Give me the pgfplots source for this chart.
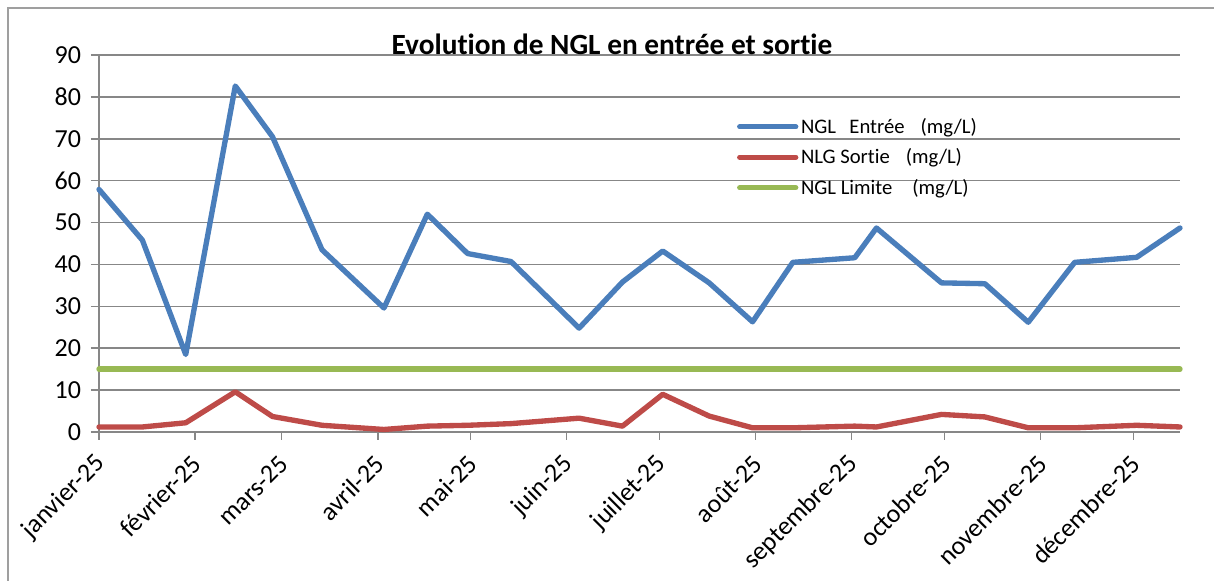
\documentclass[border=0pt]{standalone}
\usepackage{fontspec}
\setmainfont{Carlito}[Ligatures={NoCommon,NoRequired,NoContextual}]
\usepackage{pgfplots}
\pgfplotsset{compat=1.18}
\definecolor{cblue}{HTML}{4A7EBB}
\definecolor{cred}{HTML}{BE4B48}
\definecolor{cgreen}{HTML}{98B954}
\definecolor{cgrid}{HTML}{878787}
\begin{document}
\begin{tikzpicture}
\begin{axis}[
  at={(74.25pt,111.75pt)}, anchor=south west,
  scale only axis, width=810.75pt, height=282.75pt,
  xmin=0, xmax=349, ymin=0, ymax=90,
  clip=false,
  axis x line*=bottom, axis y line*=left,
  axis line style={cgrid, line width=1.1pt},
  ymajorgrids, grid style={cgrid, line width=1.1pt},
  ytick={0,10,...,90},
  xtick={0,31,59,90,120,151,181,212,243,273,304,334},
  xticklabels={janvier-25,février-25,mars-25,avril-25,mai-25,juin-25,juillet-25,août-25,septembre-25,octobre-25,novembre-25,décembre-25},
  tick align=outside, major tick length=6pt,
  tick style={cgrid, line width=1.1pt},
  /pgf/number format/assume math mode=true,
  yticklabel style={font=\fontsize{19.5}{22}\selectfont, xshift=-4pt},
  xticklabel style={font=\fontsize{19.5}{22}\selectfont, rotate=45, anchor=east, xshift=-6pt, yshift=-11.6pt},
  legend style={at={(0.590,0.84)}, anchor=north west, draw=none, fill=none,
    font=\fontsize{15.5}{18}\selectfont, row sep=6pt, inner sep=0pt},
  legend cell align=left,
  legend image code/.code={\draw[#1, line cap=round] (0pt,0pt) -- (42pt,0pt);},
  every axis plot/.append style={line width=4pt, line join=round, line cap=round, mark=none},
]
\addplot[cblue] coordinates {
(0,57.9) (14,45.8) (28,18.5) (44,82.6) (56,70.5) (72,43.5) (92,29.6) (106,52)
(119,42.6) (133,40.7) (155,24.8) (169,35.8) (182,43.2) (197,35.6) (211,26.3) (224,40.5)
(244,41.6) (251,48.7) (272,35.6) (286,35.4) (300,26.2) (315,40.5) (335,41.7) (349,48.7)};
\addlegendentry{NGL\hspace{10pt}Entrée\hspace{12pt}(mg/L)}
\addplot[cred] coordinates {
(0,1.2) (14,1.2) (28,2.2) (44,9.6) (56,3.7) (72,1.6) (92,0.6) (106,1.4)
(119,1.6) (133,2.0) (155,3.3) (169,1.4) (182,9.0) (197,3.8) (211,1.0) (224,1.0)
(244,1.4) (251,1.2) (272,4.2) (286,3.6) (300,1.0) (315,1.0) (335,1.6) (349,1.2)};
\addlegendentry{NLG Sortie\hspace{12pt}(mg/L)}
\addplot[cgreen] coordinates {(0,15) (349,15)};
\addlegendentry{NGL Limite\hspace{15pt}(mg/L)}
\end{axis}
\node[anchor=base, font=\fontsize{22}{26}\selectfont\bfseries] at (459pt,394.5pt) {Evolution de NGL en entrée et sortie};
\draw[color=cgrid!80, line width=1pt] (6pt,0pt) -- (6pt,429.75pt) -- (910.5pt,429.75pt);
\pgfresetboundingbox
\path (0pt,0pt) rectangle (910.5pt,435.75pt);
\end{tikzpicture}
\end{document}
